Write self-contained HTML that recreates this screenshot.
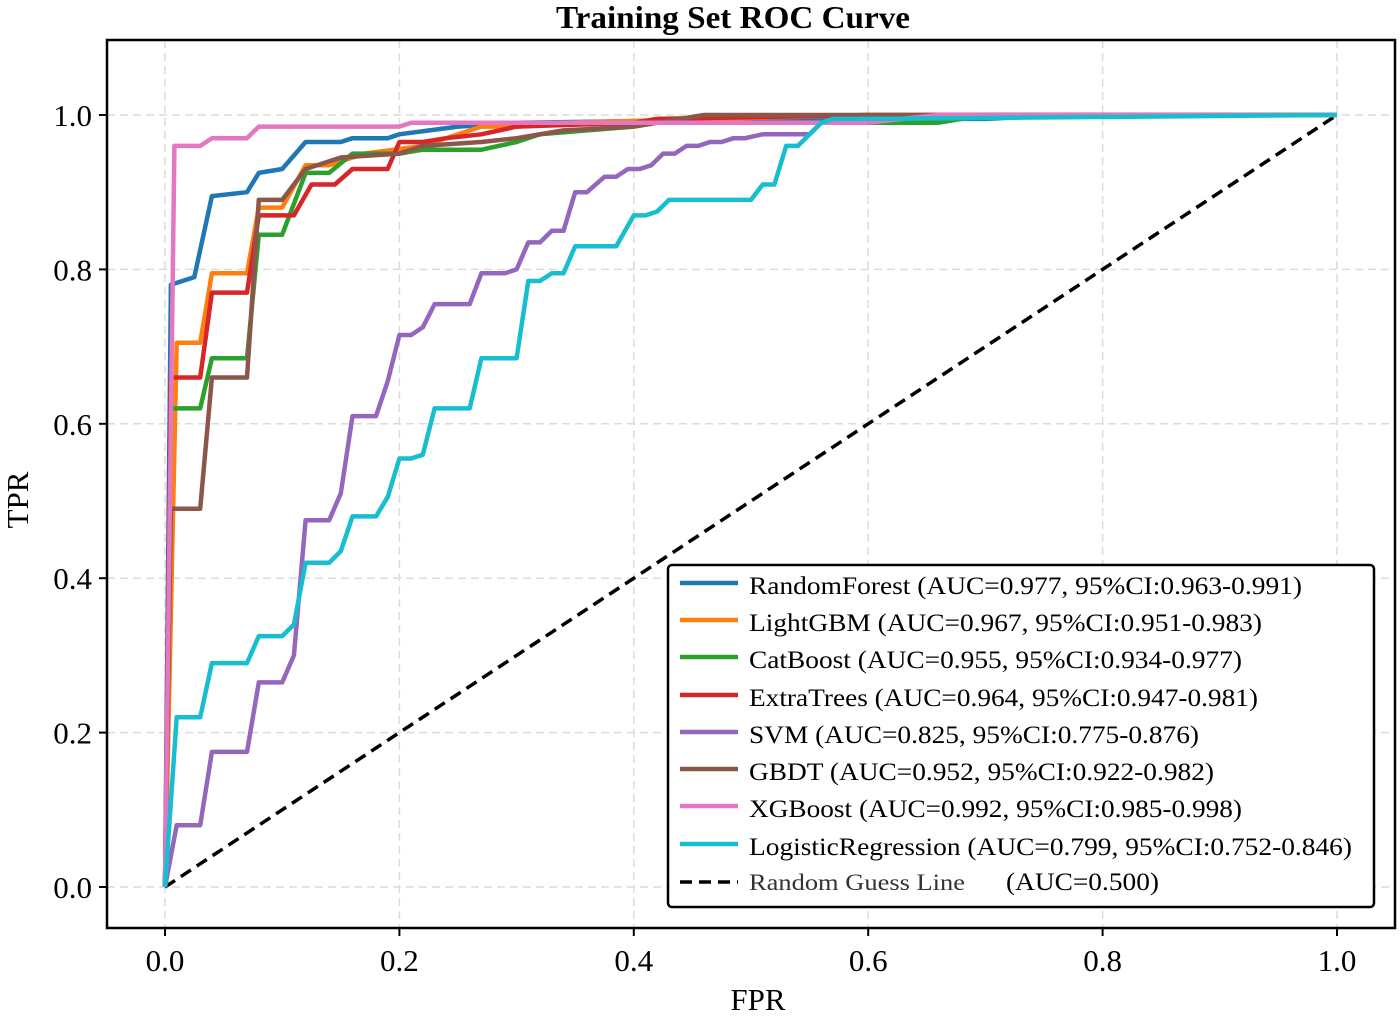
<!DOCTYPE html>
<html><head><meta charset="utf-8"><style>
body{margin:0;background:#fff;}
svg{display:block;font-family:"Liberation Serif",serif;}
</style></head><body>
<svg id="chart" width="1400" height="1016" viewBox="0 0 1400 1016">
<rect x="0" y="0" width="1400" height="1016" fill="#fff"/>
<text x="733" y="28" text-anchor="middle" font-size="32" font-weight="bold" textLength="354" lengthAdjust="spacingAndGlyphs">Training Set ROC Curve</text>
<g id="grid"></g>
<g id="ticks"></g>
<g id="curves"></g>
<rect x="107" y="40" width="1288" height="888" fill="none" stroke="#000" stroke-width="2.5"/>
<text x="758" y="1010" text-anchor="middle" font-size="31">FPR</text>
<text transform="translate(28,500) rotate(-90)" text-anchor="middle" font-size="31">TPR</text>
<g id="legend"></g>
</svg>
<script>
const NS="http://www.w3.org/2000/svg";
const xTicks=[0,0.2,0.4,0.6,0.8,1.0];
const yTicks=[0,0.2,0.4,0.6,0.8,1.0];
const tickLabels=["0.0","0.2","0.4","0.6","0.8","1.0"];
const names=["RandomForest","LightGBM","CatBoost","ExtraTrees","SVM","GBDT","XGBoost","LogisticRegression"];
const aucs=["0.977","0.967","0.955","0.964","0.825","0.952","0.992","0.799"];
const cis=["0.963-0.991","0.951-0.983","0.934-0.977","0.947-0.981","0.775-0.876","0.922-0.982","0.985-0.998","0.752-0.846"];
const colors=["#1f77b4","#ff7f0e","#2ca02c","#d62728","#9467bd","#8c564b","#e377c2","#17becf"];
const rfFpr=[0,0.005,0.025,0.04,0.07,0.08,0.1,0.12,0.15,0.16,0.19,0.2,0.25,0.3,0.55,0.7,0.77,1];
const rfTpr=[0,0.78,0.79,0.895,0.9,0.925,0.93,0.965,0.965,0.97,0.97,0.975,0.985,0.99,0.995,0.995,1,1];
const lgFpr=[0,0.01,0.03,0.04,0.07,0.08,0.1,0.12,0.14,0.17,0.22,0.27,0.3,0.34,0.6,1];
const lgTpr=[0,0.705,0.705,0.795,0.795,0.88,0.88,0.935,0.935,0.95,0.96,0.985,0.985,0.99,1,1];
const cbFpr=[0,0.005,0.03,0.04,0.07,0.08,0.1,0.12,0.14,0.16,0.2,0.22,0.27,0.3,0.32,0.36,0.4,0.42,0.66,0.7,1];
const cbTpr=[0,0.62,0.62,0.685,0.685,0.845,0.845,0.925,0.925,0.95,0.95,0.955,0.955,0.965,0.975,0.98,0.985,0.99,0.99,1,1];
const etFpr=[0,0.005,0.03,0.04,0.07,0.08,0.11,0.125,0.145,0.16,0.19,0.2,0.22,0.24,0.27,0.3,0.4,0.42,0.6,1];
const etTpr=[0,0.66,0.66,0.77,0.77,0.87,0.87,0.91,0.91,0.93,0.93,0.965,0.965,0.97,0.975,0.985,0.99,0.995,1,1];
const svmFpr=[0,0.01,0.03,0.04,0.07,0.08,0.1,0.11,0.12,0.14,0.15,0.16,0.18,0.19,0.2,0.21,0.22,0.23,0.26,0.27,0.29,0.3,0.31,0.32,0.33,0.34,0.35,0.36,0.375,0.385,0.395,0.405,0.415,0.425,0.435,0.445,0.455,0.465,0.475,0.485,0.495,0.51,0.55,0.56,0.6,0.8,1];
const svmTpr=[0,0.08,0.08,0.175,0.175,0.265,0.265,0.3,0.475,0.475,0.51,0.61,0.61,0.655,0.715,0.715,0.725,0.755,0.755,0.795,0.795,0.8,0.835,0.835,0.85,0.85,0.9,0.9,0.92,0.92,0.93,0.93,0.935,0.95,0.95,0.96,0.96,0.965,0.965,0.97,0.97,0.975,0.975,0.99,0.995,1,1];
const gbFpr=[0,0.005,0.03,0.04,0.07,0.08,0.1,0.12,0.15,0.2,0.22,0.27,0.3,0.34,0.4,0.42,0.46,1];
const gbTpr=[0,0.49,0.49,0.66,0.66,0.89,0.89,0.93,0.945,0.95,0.96,0.965,0.97,0.98,0.985,0.99,1,1];
const xgFpr=[0,0.008,0.03,0.04,0.07,0.08,0.2,0.21,0.6,0.66,1];
const xgTpr=[0,0.96,0.96,0.97,0.97,0.985,0.985,0.99,0.99,1,1];
const lrFpr=[0,0.01,0.03,0.04,0.07,0.08,0.1,0.11,0.12,0.14,0.15,0.16,0.18,0.19,0.2,0.21,0.22,0.23,0.26,0.27,0.3,0.31,0.32,0.33,0.34,0.35,0.385,0.4,0.41,0.42,0.43,0.5,0.51,0.52,0.53,0.54,0.56,0.57,0.6,1];
const lrTpr=[0,0.22,0.22,0.29,0.29,0.325,0.325,0.34,0.42,0.42,0.435,0.48,0.48,0.505,0.555,0.555,0.56,0.62,0.62,0.685,0.685,0.785,0.785,0.795,0.795,0.83,0.83,0.87,0.87,0.875,0.89,0.89,0.91,0.91,0.96,0.96,0.99,0.995,0.995,1];
const seriesFpr=[rfFpr,lgFpr,cbFpr,etFpr,svmFpr,gbFpr,xgFpr,lrFpr];
const seriesTpr=[rfTpr,lgTpr,cbTpr,etTpr,svmTpr,gbTpr,xgTpr,lrTpr];
const legendWidths=[553,513,493,509,450,465,493,603];

const X0=165,X1=1337,Y0=887,Y1=115;
const sx=v=>X0+v*(X1-X0);
const sy=v=>Y0-v*(Y0-Y1);
function mk(tag,attrs,parent){const e=document.createElementNS(NS,tag);for(const k in attrs)e.setAttribute(k,attrs[k]);parent.appendChild(e);return e;}
const grid=document.getElementById('grid'),ticks=document.getElementById('ticks'),curves=document.getElementById('curves'),legend=document.getElementById('legend');
xTicks.forEach((v,i)=>{
  const g=mk('line',{x1:sx(v),x2:sx(v),y1:40,y2:928,stroke:'#dcdcdc','stroke-width':1.5,'stroke-dasharray':'8,5'},grid);
  
  
  const t=mk('line',{x1:sx(v),x2:sx(v),y1:928,y2:936,stroke:'#000','stroke-width':2},ticks);
  
  
  const l=mk('text',{x:sx(v),y:971,'text-anchor':'middle','font-size':31},ticks);
  l.textContent=tickLabels[i];
  
  
});
yTicks.forEach((v,i)=>{
  const g=mk('line',{x1:107,x2:1395,y1:sy(v),y2:sy(v),stroke:'#dcdcdc','stroke-width':1.5,'stroke-dasharray':'8,5'},grid);
  
  
  const t=mk('line',{x1:99,x2:107,y1:sy(v),y2:sy(v),stroke:'#000','stroke-width':2},ticks);
  
  
  const l=mk('text',{x:92,y:sy(v)+11,'text-anchor':'end','font-size':31},ticks);
  l.textContent=tickLabels[i];
  
  
});
const diag=mk('line',{x1:sx(0),y1:sy(0),x2:sx(1),y2:sy(1),stroke:'#000','stroke-width':3.5,'stroke-dasharray':'12,7'},curves);


seriesFpr.forEach((fx,i)=>{
  const ty=seriesTpr[i];
  const pts=fx.map((f,j)=>sx(f).toFixed(1)+','+sy(ty[j]).toFixed(1)).join(' ');
  const p=mk('polyline',{points:pts,fill:'none',stroke:colors[i],'stroke-width':4.5,'stroke-linejoin':'round'},curves);
  
  
});
const box=mk('rect',{x:668,y:565,width:706,height:342,rx:4,fill:'#fff',stroke:'#000','stroke-width':2.5},legend);


const rowY=[586,623,660,698,735,772,809,847];
names.forEach((n,i)=>{
  const y=rowY[i];
  const ln=mk('line',{x1:680,x2:738,y1:y-3,y2:y-3,stroke:colors[i],'stroke-width':4.5},legend);
  
  
  const t=mk('text',{x:749,y:y+8,'font-size':25,textLength:legendWidths[i],lengthAdjust:'spacingAndGlyphs'},legend);
  t.textContent=n+' (AUC='+aucs[i]+', 95%CI:'+cis[i]+')';
  
  
});
const dl=mk('line',{x1:680,x2:738,y1:882,y2:882,stroke:'#000','stroke-width':3.5,'stroke-dasharray':'12,7'},legend);


const dt=mk('text',{x:749,y:890,'font-size':23,fill:'#333',textLength:216,lengthAdjust:'spacingAndGlyphs'},legend);
dt.textContent='Random Guess Line';


const dt2=mk('text',{x:1006,y:890,'font-size':25,textLength:153,lengthAdjust:'spacingAndGlyphs'},legend);
dt2.textContent='(AUC=0.500)';


</script>
</body></html>
